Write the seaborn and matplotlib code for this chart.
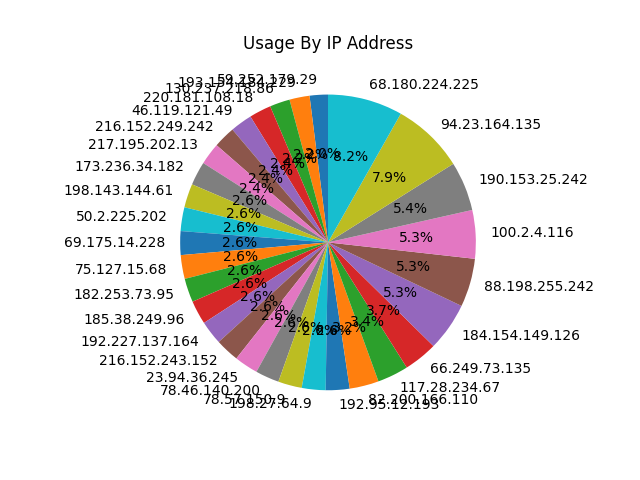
import seaborn as sns
import matplotlib
matplotlib.use("Agg")
import matplotlib.pyplot as plt

# IP addresses, smallest share first (drawn counter-clockwise from the top)
ips = [
    "59.252.179.29", "193.154.184.229", "130.237.218.86", "220.181.108.18",
    "46.119.121.49", "216.152.249.242", "217.195.202.13", "173.236.34.182",
    "198.143.144.61", "50.2.225.202", "69.175.14.228", "75.127.15.68",
    "182.253.73.95", "185.38.249.96", "192.227.137.164", "216.152.243.152",
    "23.94.36.245", "78.46.140.200", "78.57.150.9", "198.27.64.9",
    "192.95.12.193", "82.200.166.110", "117.28.234.67", "66.249.73.135",
    "184.154.149.126", "88.198.255.242", "100.2.4.116", "190.153.25.242",
    "94.23.164.135", "68.180.224.225",
]
usage = [
    2.0, 2.2, 2.2, 2.4, 2.4, 2.4, 2.4, 2.6,
    2.6, 2.6, 2.6, 2.6, 2.6, 2.6, 2.6, 2.6,
    2.6, 2.6, 2.6, 2.6,
    2.6, 3.2, 3.4, 3.7, 5.3, 5.3, 5.3, 5.4,
    7.9, 8.2,
]

palette = sns.color_palette("tab10")

fig = plt.figure(figsize=(6.4, 4.8), dpi=100)
plt.pie(usage, labels=ips, colors=palette, autopct="%1.1f%%", startangle=90)
plt.title("Usage By IP Address")
plt.savefig("out.png")
